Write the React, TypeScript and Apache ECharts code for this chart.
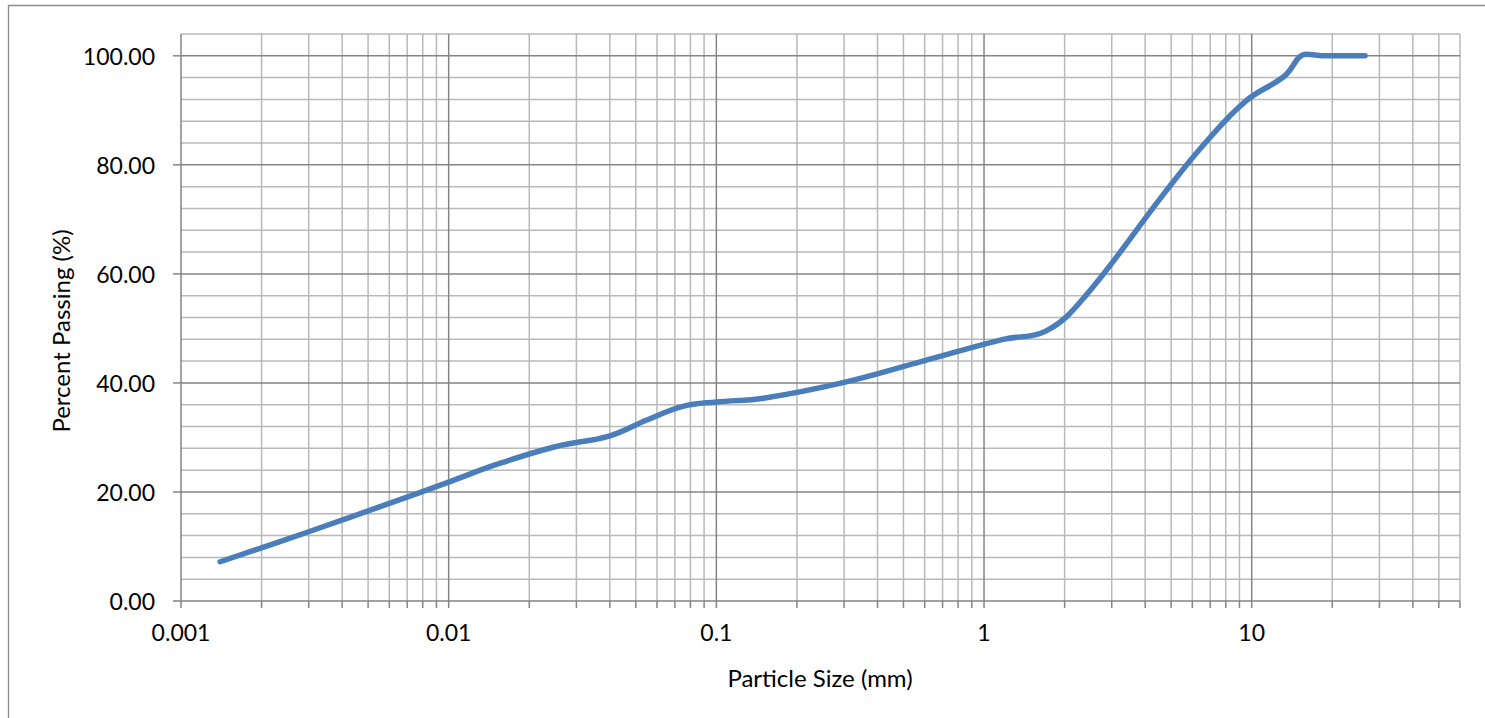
import React, { useEffect, useRef } from "react";
import * as echarts from "echarts";

// Particle size (mm) and percent passing
const particleSize = [
  0.0014, 0.003, 0.006, 0.01, 0.015, 0.025, 0.04, 0.055, 0.075, 0.1, 0.15, 0.3,
  0.6, 1.18, 1.7, 2.36, 4.75, 6.7, 9.5, 13.2, 16, 19, 26.5,
];
const percentPassing = [
  7.2, 12.7, 17.9, 21.8, 25.0, 28.3, 30.3, 33.2, 35.7, 36.5, 37.2, 40.1, 44.1,
  48.0, 49.5, 55.6, 75.0, 84.0, 91.7, 96.2, 100.3, 100.0, 100.0,
];

// Axis settings
const X_MIN = 0.001;
const X_MAX = 60;
const Y_MIN = 0;
const Y_MAX = 104;
const xMajorTicks = [0.001, 0.01, 0.1, 1, 10];
const xTickLabels = ["0.001", "0.01", "0.1", "1", "10"];
const yMajorTicks = [0, 20, 40, 60, 80, 100];
const yTickLabels = ["0.00", "20.00", "40.00", "60.00", "80.00", "100.00"];
const yMinorStep = 4;

function buildXMinor(): number[] {
  const out: number[] = [];
  for (let d = 0; d < xMajorTicks.length; d++) {
    for (let m = 2; m <= 9; m++) {
      const v = xMajorTicks[d] * m;
      if (v <= X_MAX + 1e-9) out.push(v);
    }
  }
  return out;
}
function buildYMinor(): number[] {
  const out: number[] = [];
  for (let v = Y_MIN; v <= Y_MAX; v += yMinorStep) {
    if (yMajorTicks.indexOf(v) < 0) out.push(v);
  }
  return out;
}

const FONT = "Lato, 'Open Sans', sans-serif";

export default function App() {
  const ref = useRef<HTMLDivElement>(null);

  useEffect(() => {
    if (!ref.current) return;
    const chart = echarts.init(ref.current, undefined, { renderer: "svg" });

    const gridData: number[][] = [];
    buildXMinor().forEach((v) => gridData.push([v, Y_MIN, 0]));
    buildYMinor().forEach((v) => gridData.push([X_MIN, v, 2]));
    xMajorTicks.forEach((v) => gridData.push([v, Y_MIN, 1]));
    yMajorTicks.forEach((v) => gridData.push([X_MIN, v, 3]));

    const MAJOR = "#858585";
    const MINOR = "#b9b9b9";
    const TICK = 7;

    const lineData = particleSize.map((x, i) => [x, percentPassing[i]]);

    chart.setOption({
      animation: false,
      backgroundColor: "#ffffff",
      grid: { left: 181, right: 25, top: 34, bottom: 117, containLabel: false },
      xAxis: {
        type: "log",
        logBase: 10,
        min: X_MIN,
        max: X_MAX,
        splitNumber: 5,
        axisLine: { show: false },
        axisTick: { show: false },
        splitLine: { show: false },
        minorTick: { show: false },
        axisLabel: {
          show: true,
          margin: 19,
          color: "#000",
          fontFamily: FONT,
          fontSize: 23,
          showMaxLabel: false,
          formatter: (v: number) => {
            const e = Math.log10(v);
            const r = Math.round(e);
            if (Math.abs(e - r) > 1e-6) return "";
            const idx = xMajorTicks.findIndex((t) => Math.abs(Math.log10(t) - r) < 1e-6);
            return idx >= 0 ? xTickLabels[idx] : "";
          },
        },
      },
      yAxis: {
        type: "value",
        min: Y_MIN,
        max: Y_MAX,
        interval: yMinorStep,
        axisLine: { show: false },
        axisTick: { show: false },
        splitLine: { show: false },
        axisLabel: {
          margin: 26,
          color: "#000",
          fontFamily: FONT,
          fontSize: 23,
          formatter: (v: number) => {
            const idx = yMajorTicks.indexOf(Math.round(v));
            return idx >= 0 && Math.abs(v - Math.round(v)) < 1e-6 ? yTickLabels[idx] : "";
          },
        },
      },
      graphic: [
        {
          type: "rect",
          shape: { x: 8.5, y: 5.5, width: 1600, height: 800 },
          style: { fill: "none", stroke: "#8c8c8c", lineWidth: 1.3 },
          silent: true,
          z: -10,
        },
        {
          type: "text",
          x: 60,
          y: 331,
          rotation: Math.PI / 2,
          style: {
            text: "Percent Passing (%)",
            fontFamily: FONT,
            fontSize: 24,
            fill: "#000",
            align: "center",
            verticalAlign: "middle",
          },
        },
        {
          type: "text",
          x: 820,
          y: 677,
          style: {
            text: "Particle Size (mm)",
            fontFamily: FONT,
            fontSize: 24,
            fill: "#000",
            align: "center",
            verticalAlign: "middle",
          },
        },
      ],
      series: [
        {
          type: "custom",
          clip: false,
          silent: true,
          z: 1,
          data: gridData,
          renderItem: (params: any, api: any) => {
            const x = api.value(0);
            const y = api.value(1);
            const t = api.value(2);
            const major = t === 1 || t === 3;
            const color = major ? MAJOR : MINOR;
            if (t === 0 || t === 1) {
              const p0 = api.coord([x, Y_MIN]);
              const p1 = api.coord([x, Y_MAX]);
              return {
                type: "group",
                children: [
                  {
                    type: "line",
                    shape: { x1: p0[0], y1: p0[1], x2: p1[0], y2: p1[1] },
                    style: { stroke: color, lineWidth: 1.5 },
                  },
                  {
                    type: "line",
                    shape: { x1: p0[0], y1: p0[1], x2: p0[0], y2: p0[1] + TICK },
                    style: { stroke: MAJOR, lineWidth: 1.5 },
                  },
                ],
              };
            }
            const p0 = api.coord([X_MIN, y]);
            const p1 = api.coord([X_MAX, y]);
            const children: any[] = [
              {
                type: "line",
                shape: { x1: p0[0], y1: p0[1], x2: p1[0], y2: p1[1] },
                style: { stroke: color, lineWidth: 1.5 },
              },
            ];
            if (major) {
              children.push({
                type: "line",
                shape: { x1: p0[0] - TICK - 1, y1: p0[1], x2: p0[0], y2: p0[1] },
                style: { stroke: MAJOR, lineWidth: 1.5 },
              });
            }
            return { type: "group", children };
          },
        },
        {
          type: "line",
          data: lineData,
          smooth: 0.4,
          symbol: "none",
          z: 5,
          lineStyle: { color: "#4a7ebb", width: 5.5, cap: "round", join: "round" },
        },
      ],
    });

    return () => chart.dispose();
  }, []);

  return (
    <div
      ref={ref}
      style={{ position: "absolute", left: 0, top: 0, width: 1485, height: 718 }}
    />
  );
}
